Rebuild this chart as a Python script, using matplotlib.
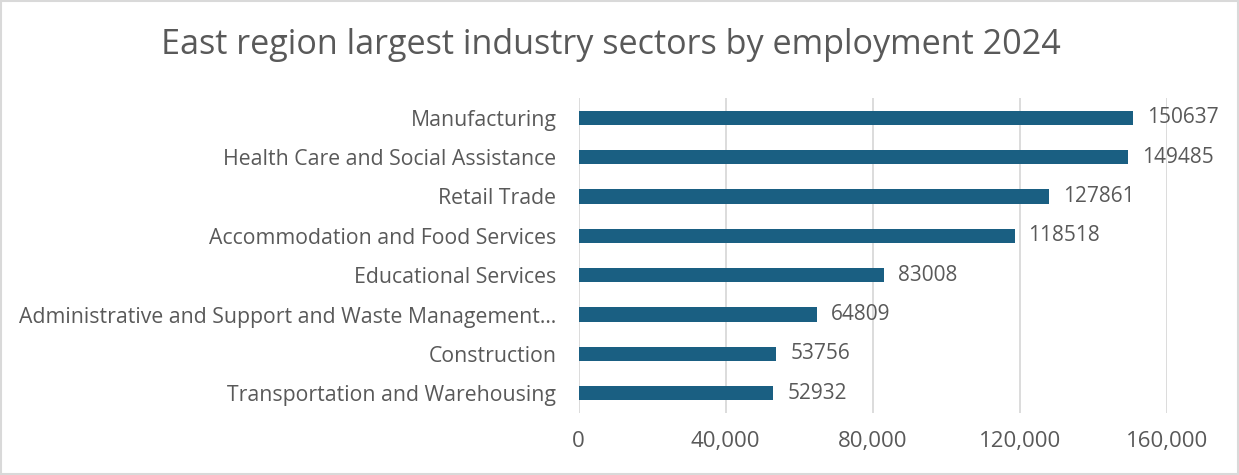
import matplotlib.pyplot as plt
from matplotlib.ticker import FuncFormatter
from matplotlib.patches import Rectangle

plt.rcParams['font.family'] = ['Open Sans', 'DejaVu Sans']

sectors = [
    'Manufacturing',
    'Health Care and Social Assistance',
    'Retail Trade',
    'Accommodation and Food Services',
    'Educational Services',
    'Administrative and Support and Waste Management\u2026',
    'Construction',
    'Transportation and Warehousing',
]
employment = [150637, 149485, 127861, 118518, 83008, 64809, 53756, 52932]
xticks = [0, 40000, 80000, 120000, 160000]

text_col = '#595959'
bar_col = '#1A5F82'
grid_col = '#D9D9D9'

fig = plt.figure(figsize=(12.39, 4.75), dpi=100)
ax = fig.add_axes([0.467, 0.1305, 0.475, 0.6632])

ypos = list(range(len(sectors)))
ax.barh(ypos, employment, height=0.36, color=bar_col, zorder=3)
ax.set_yticks(ypos)
ax.set_yticklabels(sectors)
ax.set_ylim(len(sectors) - 0.5, -0.5)
ax.set_xlim(0, 160000)
ax.set_xticks(xticks)
ax.xaxis.set_major_formatter(FuncFormatter(lambda v, p: f'{int(v):,}'))
ax.tick_params(axis='both', length=0, labelcolor=text_col)
ax.tick_params(axis='y', pad=16, labelsize=15.3)
ax.tick_params(axis='x', pad=13, labelsize=16)
ax.grid(axis='x', color=grid_col, linewidth=1.3, zorder=0)
for s in ax.spines.values():
    s.set_visible(False)

# value labels just past the end of each bar
for y, v in zip(ypos, employment):
    ax.annotate(str(v), (v, y), xytext=(10, 0), textcoords='offset points',
                va='center', ha='left', fontsize=15, color=text_col)

fig.text(0.493, 0.905, 'East region largest industry sectors by employment 2024',
         ha='center', va='center', fontsize=24.6, color=text_col)

# thin frame round the whole chart
fig.patches.append(Rectangle((0.001, 0.002), 0.998, 0.996, transform=fig.transFigure,
                             fill=False, edgecolor=grid_col, linewidth=1.5))

fig.savefig('out.png', dpi=100)
